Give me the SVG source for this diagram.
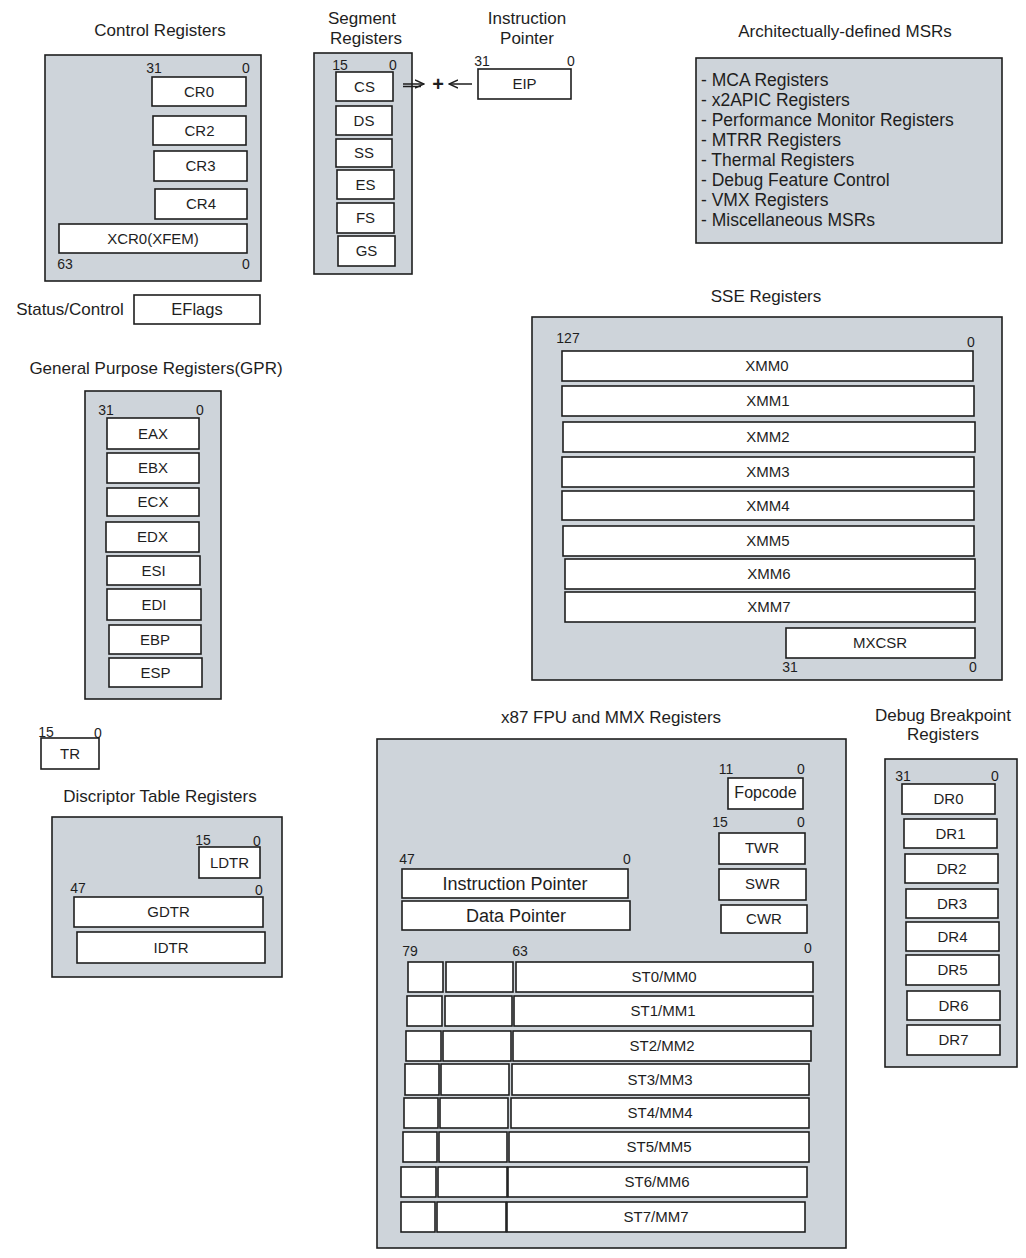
<svg xmlns="http://www.w3.org/2000/svg" width="1026" height="1258" viewBox="0 0 1026 1258">
<defs>
<style>
.bg{fill:#ffffff}
.c{fill:#ced4da;stroke:#1e1e1e;stroke-width:1.6}
.r{fill:#ffffff;stroke:#1e1e1e;stroke-width:1.6}
text{font-family:"Liberation Sans",Arial,sans-serif;fill:#1e1e1e}
.h{font-size:17px;text-anchor:middle}
.l{font-size:15px;text-anchor:middle}
.w{font-size:18px;text-anchor:middle}
.n{font-size:14px;text-anchor:middle}
.m{font-size:17.5px;text-anchor:start}
.ln{stroke:#1e1e1e;stroke-width:1.5;fill:none}
</style>
<marker id="ah" viewBox="0 0 10 10" refX="9" refY="5" markerWidth="10" markerHeight="10" markerUnits="userSpaceOnUse" orient="auto">
<path d="M0,1 L9,5 L0,9" fill="none" stroke="#1e1e1e" stroke-width="1.4"/>
</marker>
</defs>
<rect class="bg" x="0" y="0" width="1026" height="1258"/>

<g id="control-registers">
<text class="h" x="160" y="36">Control Registers</text>
<rect class="c" x="45" y="55" width="216" height="226"/>
<text class="n" x="154" y="73">31</text><text class="n" x="246" y="73">0</text>
<rect class="r" x="152" y="77" width="94" height="29"/><text class="l" x="199" y="97">CR0</text>
<rect class="r" x="153" y="116" width="93" height="29"/><text class="l" x="199.5" y="136">CR2</text>
<rect class="r" x="154" y="151" width="93" height="30"/><text class="l" x="200.5" y="171">CR3</text>
<rect class="r" x="155" y="189" width="92" height="30"/><text class="l" x="201" y="209">CR4</text>
<rect class="r" x="59" y="224" width="188" height="29"/><text class="l" x="153" y="244">XCR0(XFEM)</text>
<text class="n" x="65" y="269">63</text><text class="n" x="246" y="269">0</text>
</g>

<g id="status-control">
<text class="h" x="70" y="315">Status/Control</text>
<rect class="r" x="134" y="295" width="126" height="29"/><text class="l" x="197" y="315" style="font-size:16.5px">EFlags</text>
</g>

<g id="segment-registers">
<text class="h" x="362" y="24">Segment</text>
<text class="h" x="366" y="44">Registers</text>
<rect class="c" x="314" y="53" width="98" height="221"/>
<text class="n" x="340" y="70">15</text><text class="n" x="393" y="70">0</text>
<rect class="r" x="336" y="72" width="57" height="29"/><text class="l" x="364.5" y="92">CS</text>
<rect class="r" x="336" y="106" width="56" height="29"/><text class="l" x="364" y="126">DS</text>
<rect class="r" x="336" y="139" width="56" height="28"/><text class="l" x="364" y="158">SS</text>
<rect class="r" x="337" y="170" width="57" height="29"/><text class="l" x="365.5" y="190">ES</text>
<rect class="r" x="337" y="203" width="57" height="30"/><text class="l" x="365.5" y="223">FS</text>
<rect class="r" x="338" y="236" width="57" height="30"/><text class="l" x="366.5" y="256">GS</text>
</g>

<g id="instruction-pointer">
<text class="h" x="527" y="24">Instruction</text>
<text class="h" x="527" y="44">Pointer</text>
<text class="n" x="482" y="66">31</text><text class="n" x="571" y="66">0</text>
<rect class="r" x="478" y="69" width="93" height="30"/><text class="l" x="524.5" y="89">EIP</text>
</g>

<g id="plus">
<text x="438" y="91" style="font-size:20px;font-weight:bold;text-anchor:middle">+</text>
</g>

<g id="connectors">
<line class="ln" x1="403" y1="84" x2="424" y2="84" marker-end="url(#ah)"/>
<line class="ln" x1="403" y1="86.5" x2="421" y2="86.5"/>
<line class="ln" x1="472" y1="84" x2="449" y2="84" marker-end="url(#ah)"/>
</g>

<g id="msrs">
<text class="h" x="845" y="37">Architectually-defined MSRs</text>
<rect class="c" x="696" y="58" width="306" height="185"/>
<text class="m" x="701" y="86">- MCA Registers</text>
<text class="m" x="701" y="106">- x2APIC Registers</text>
<text class="m" x="701" y="126">- Performance Monitor Registers</text>
<text class="m" x="701" y="146">- MTRR Registers</text>
<text class="m" x="701" y="166">- Thermal Registers</text>
<text class="m" x="701" y="186">- Debug Feature Control</text>
<text class="m" x="701" y="206">- VMX Registers</text>
<text class="m" x="701" y="226">- Miscellaneous MSRs</text>
</g>

<g id="sse-registers">
<text class="h" x="766" y="302">SSE Registers</text>
<rect class="c" x="532" y="317" width="470" height="363"/>
<text class="n" x="568" y="343">127</text><text class="n" x="971" y="347">0</text>
<rect class="r" x="562" y="351" width="411" height="30"/><text class="l" x="767" y="371">XMM0</text>
<rect class="r" x="562" y="386" width="412" height="30"/><text class="l" x="768" y="406">XMM1</text>
<rect class="r" x="563" y="422" width="412" height="30"/><text class="l" x="768" y="442">XMM2</text>
<rect class="r" x="562" y="457" width="412" height="30"/><text class="l" x="768" y="477">XMM3</text>
<rect class="r" x="562" y="491" width="412" height="29"/><text class="l" x="768" y="511">XMM4</text>
<rect class="r" x="563" y="526" width="411" height="30"/><text class="l" x="768" y="546">XMM5</text>
<rect class="r" x="565" y="559" width="410" height="30"/><text class="l" x="769" y="579">XMM6</text>
<rect class="r" x="565" y="592" width="410" height="30"/><text class="l" x="769" y="612">XMM7</text>
<rect class="r" x="786" y="628" width="189" height="30"/><text class="l" x="880" y="648">MXCSR</text>
<text class="n" x="790" y="672">31</text><text class="n" x="973" y="672">0</text>
</g>

<g id="gpr">
<text class="h" x="156" y="374">General Purpose Registers(GPR)</text>
<rect class="c" x="85" y="391" width="136" height="308"/>
<text class="n" x="106" y="415">31</text><text class="n" x="200" y="415">0</text>
<rect class="r" x="107" y="418" width="92" height="31"/><text class="l" x="153" y="439">EAX</text>
<rect class="r" x="107" y="453" width="92" height="30"/><text class="l" x="153" y="473">EBX</text>
<rect class="r" x="107" y="488" width="92" height="28"/><text class="l" x="153" y="507">ECX</text>
<rect class="r" x="106" y="522" width="93" height="30"/><text class="l" x="152.5" y="542">EDX</text>
<rect class="r" x="107" y="556" width="93" height="29"/><text class="l" x="153.5" y="576">ESI</text>
<rect class="r" x="107" y="589" width="94" height="31"/><text class="l" x="154" y="610">EDI</text>
<rect class="r" x="109" y="625" width="92" height="29"/><text class="l" x="155" y="645">EBP</text>
<rect class="r" x="109" y="658" width="93" height="29"/><text class="l" x="155.5" y="678">ESP</text>
</g>

<g id="tr">
<text class="n" x="46" y="737">15</text><text class="n" x="98" y="738">0</text>
<rect class="r" x="41" y="738" width="58" height="31"/><text class="l" x="70" y="759">TR</text>
</g>

<g id="descriptor-table-registers">
<text class="h" x="160" y="802">Discriptor Table Registers</text>
<rect class="c" x="52" y="817" width="230" height="160"/>
<text class="n" x="203" y="845">15</text><text class="n" x="257" y="846">0</text>
<rect class="r" x="199" y="847" width="61" height="31"/><text class="l" x="229.5" y="868">LDTR</text>
<text class="n" x="78" y="893">47</text><text class="n" x="259" y="895">0</text>
<rect class="r" x="74" y="897" width="189" height="30"/><text class="l" x="168.5" y="917">GDTR</text>
<rect class="r" x="77" y="932" width="188" height="31"/><text class="l" x="171" y="953">IDTR</text>
</g>

<g id="x87-fpu-mmx">
<text class="h" x="611" y="723">x87 FPU and MMX Registers</text>
<rect class="c" x="377" y="739" width="469" height="509"/>
<text class="n" x="726" y="774">11</text><text class="n" x="801" y="774">0</text>
<rect class="r" x="728" y="778" width="75" height="31"/><text class="l" x="765.5" y="798" style="font-size:16px">Fopcode</text>
<text class="n" x="720" y="827">15</text><text class="n" x="801" y="827">0</text>
<rect class="r" x="719" y="833" width="86" height="31"/><text class="l" x="762" y="853">TWR</text>
<rect class="r" x="719" y="869" width="87" height="31"/><text class="l" x="762.5" y="889">SWR</text>
<rect class="r" x="721" y="905" width="86" height="28"/><text class="l" x="764" y="924">CWR</text>
<text class="n" x="407" y="864">47</text><text class="n" x="627" y="864">0</text>
<rect class="r" x="402" y="869" width="226" height="29"/><text class="w" x="515" y="890">Instruction Pointer</text>
<rect class="r" x="402" y="901" width="228" height="29"/><text class="w" x="516" y="922">Data Pointer</text>
<text class="n" x="410" y="956">79</text><text class="n" x="520" y="956">63</text><text class="n" x="808" y="953">0</text>
<rect class="r" x="408" y="962" width="35" height="30"/><rect class="r" x="446" y="962" width="67" height="30"/><rect class="r" x="516" y="962" width="297" height="30"/><text class="l" x="664" y="982">ST0/MM0</text>
<rect class="r" x="407" y="996" width="35" height="30"/><rect class="r" x="445" y="996" width="67" height="30"/><rect class="r" x="514" y="996" width="299" height="30"/><text class="l" x="663" y="1016">ST1/MM1</text>
<rect class="r" x="406" y="1031" width="35" height="30"/><rect class="r" x="443" y="1031" width="68" height="30"/><rect class="r" x="513" y="1031" width="298" height="30"/><text class="l" x="662" y="1051">ST2/MM2</text>
<rect class="r" x="405" y="1064" width="34" height="31"/><rect class="r" x="441" y="1064" width="68" height="31"/><rect class="r" x="512" y="1064" width="297" height="31"/><text class="l" x="660" y="1085">ST3/MM3</text>
<rect class="r" x="404" y="1098" width="34" height="30"/><rect class="r" x="440" y="1098" width="68" height="30"/><rect class="r" x="511" y="1098" width="298" height="30"/><text class="l" x="660" y="1118">ST4/MM4</text>
<rect class="r" x="403" y="1132" width="34" height="30"/><rect class="r" x="439" y="1132" width="68" height="30"/><rect class="r" x="509" y="1132" width="300" height="30"/><text class="l" x="659" y="1152">ST5/MM5</text>
<rect class="r" x="401" y="1167" width="35" height="30"/><rect class="r" x="438" y="1167" width="69" height="30"/><rect class="r" x="508" y="1167" width="299" height="30"/><text class="l" x="657" y="1187">ST6/MM6</text>
<rect class="r" x="401" y="1202" width="34" height="30"/><rect class="r" x="437" y="1202" width="69" height="30"/><rect class="r" x="507" y="1202" width="298" height="30"/><text class="l" x="656" y="1222">ST7/MM7</text>
</g>

<g id="debug-breakpoint-registers">
<text class="h" x="943" y="721">Debug Breakpoint</text>
<text class="h" x="943" y="740">Registers</text>
<rect class="c" x="885" y="759" width="132" height="308"/>
<text class="n" x="903" y="781">31</text><text class="n" x="995" y="781">0</text>
<rect class="r" x="902" y="784" width="93" height="30"/><text class="l" x="948.5" y="804">DR0</text>
<rect class="r" x="904" y="819" width="93" height="29"/><text class="l" x="950.5" y="839">DR1</text>
<rect class="r" x="905" y="854" width="93" height="29"/><text class="l" x="951.5" y="874">DR2</text>
<rect class="r" x="906" y="889" width="92" height="29"/><text class="l" x="952" y="909">DR3</text>
<rect class="r" x="906" y="922" width="93" height="29"/><text class="l" x="952.5" y="942">DR4</text>
<rect class="r" x="906" y="955" width="93" height="30"/><text class="l" x="952.5" y="975">DR5</text>
<rect class="r" x="907" y="991" width="93" height="29"/><text class="l" x="953.5" y="1011">DR6</text>
<rect class="r" x="907" y="1025" width="93" height="30"/><text class="l" x="953.5" y="1045">DR7</text>
</g>
</svg>
